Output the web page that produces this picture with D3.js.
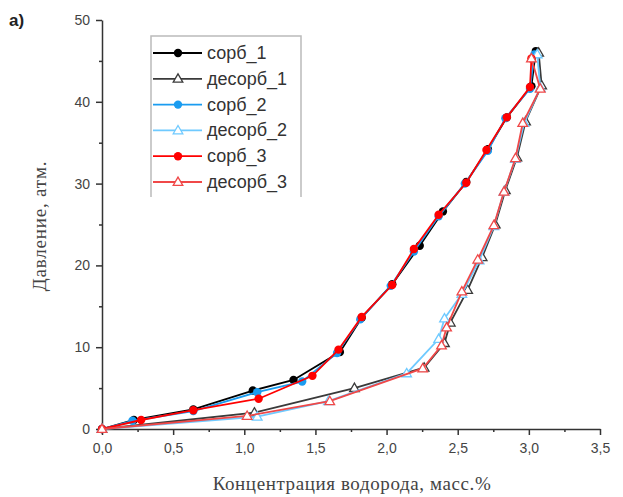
<!DOCTYPE html>
<html>
<head>
<meta charset="utf-8">
<script src="https://cdn.jsdelivr.net/npm/d3@7"></script>
<style>
  html, body { margin: 0; padding: 0; background: #fff; }
  svg { display: block; }
</style>
</head>
<body>
<svg id="chart" width="623" height="497"></svg>
<script>
// Hydrogen sorption / desorption isotherms (3 cycles)
const xTicks = [0, 0.5, 1.0, 1.5, 2.0, 2.5, 3.0, 3.5];
const yTicks = [0, 10, 20, 30, 40, 50];

// [concentration, mass %] , [pressure, atm]
const sorb1 = [[0,0],[0.224,1.1],[0.642,2.4],[1.06,4.7],[1.346,6.0],[1.672,9.4],[1.825,13.6],[2.04,17.7],[2.233,22.4],[2.396,26.6],[2.56,30.2],[2.712,34.2],[2.845,38.1],[3.018,41.9],[3.049,46.2]];
const desorb1 = [[3.069,46.0],[3.09,42.0],[2.977,37.6],[2.916,33.2],[2.835,29.2],[2.764,25.0],[2.672,21.0],[2.57,17.0],[2.448,13.0],[2.407,10.5],[2.264,7.5],[1.774,5.0],[1.071,2.0],[0,0]];
const sorb2 = [[0,0],[0.214,1.0],[0.642,2.2],[1.091,4.5],[1.407,5.8],[1.652,9.3],[1.815,13.4],[2.029,17.5],[2.192,21.7],[2.366,26.0],[2.55,30.0],[2.712,34.0],[2.835,38.0],[3.008,41.6],[3.039,45.8]];
const desorb2 = [[3.059,45.8],[3.08,41.7],[2.967,37.4],[2.906,33.0],[2.825,29.0],[2.754,24.8],[2.651,20.6],[2.529,16.5],[2.407,13.5],[2.366,11.0],[2.141,6.8],[1.591,3.4],[1.091,1.5],[0,0]];
const sorb3 = [[0,0],[0.275,1.1],[0.642,2.3],[1.101,3.7],[1.479,6.5],[1.662,9.7],[1.825,13.7],[2.039,17.6],[2.192,22.0],[2.366,26.2],[2.56,30.1],[2.702,34.1],[2.845,38.1],[3.008,41.8],[3.018,45.3]];
const desorb3 = [[3.018,45.3],[3.08,41.6],[2.957,37.4],[2.906,33.1],[2.825,29.0],[2.754,24.9],[2.641,20.7],[2.529,16.8],[2.422,12.4],[2.386,10.2],[2.254,7.4],[1.601,3.4],[1.02,1.6],[0,0]];

const seriesNames = ["сорб_1", "десорб_1", "сорб_2", "десорб_2", "сорб_3", "десорб_3"];
const seriesData = [sorb1, desorb1, sorb2, desorb2, sorb3, desorb3];
const seriesColors = ["#000000", "#3a3a3a", "#1a9cf0", "#6fcaff", "#ff0000", "#f04848"];
const seriesMarker = ["circle", "triangle", "circle", "triangle", "circle", "triangle"];

const svg = d3.select("#chart");
const plotL = 102, plotR = 600, plotT = 20, plotB = 429;

const x = d3.scaleLinear().domain([0, 3.5]).range([plotL, plotR]);
const y = d3.scaleLinear().domain([0, 50]).range([plotB, plotT]);

const fmt = d => d3.format(".1f")(d).replace(".", ",");

// minor ticks
const gxMinor = svg.append("g").attr("transform", `translate(0,${plotB})`)
  .call(d3.axisBottom(x).tickValues(d3.range(0.25, 3.5, 0.5)).tickSize(3).tickFormat(""));
const gyMinor = svg.append("g").attr("transform", `translate(${plotL},0)`)
  .call(d3.axisLeft(y).tickValues(d3.range(5, 50, 10)).tickSize(3).tickFormat(""));
[gxMinor, gyMinor].forEach(g => { g.select(".domain").remove(); g.selectAll("line").attr("stroke", "#333").attr("stroke-width", 1.5); });

const gx = svg.append("g").attr("transform", `translate(0,${plotB})`)
  .call(d3.axisBottom(x).tickValues(xTicks).tickSize(6).tickSizeOuter(0).tickPadding(8).tickFormat(fmt));
const gy = svg.append("g").attr("transform", `translate(${plotL},0)`)
  .call(d3.axisLeft(y).tickValues(yTicks).tickSize(6).tickSizeOuter(0).tickPadding(6));
[gx, gy].forEach(g => {
  g.select(".domain").attr("stroke", "#333").attr("stroke-width", 1.5);
  g.selectAll(".tick line").attr("stroke", "#333").attr("stroke-width", 1.5);
  g.selectAll("text").attr("font-family", "Liberation Sans, Arial, sans-serif").attr("font-size", 14).attr("fill", "#444");
});

// axis titles
svg.append("text").attr("x", 352).attr("y", 490).attr("text-anchor", "middle")
  .attr("font-family", "Liberation Serif, Times New Roman, serif").attr("font-size", 19)
  .attr("letter-spacing", 0.6).attr("fill", "#444")
  .text("Концентрация водорода, масс.%");
svg.append("text").attr("transform", "translate(46,226) rotate(-90)").attr("text-anchor", "middle")
  .attr("font-family", "Liberation Serif, Times New Roman, serif").attr("font-size", 19)
  .attr("letter-spacing", 0.8).attr("fill", "#444")
  .text("Давление, атм.");
svg.append("text").attr("x", 9).attr("y", 26)
  .attr("font-family", "Liberation Sans, Arial, sans-serif").attr("font-size", 17).attr("font-weight", "bold").attr("fill", "#222")
  .text("а)");

const line = d3.line().x(d => x(d[0])).y(d => y(d[1]));
const tri = d3.symbol().type(d3.symbolTriangle).size(40);

function drawMarker(g, type, color, cx, cy) {
  if (type === "circle") {
    g.append("circle").attr("cx", cx).attr("cy", cy).attr("r", 4.2).attr("fill", color);
  } else {
    g.append("path").attr("d", tri()).attr("transform", `translate(${cx},${cy + 0.6})`)
      .attr("fill", "#fff").attr("stroke", color).attr("stroke-width", 1.3);
  }
}

seriesData.forEach((data, i) => {
  const g = svg.append("g");
  g.append("path").datum(data).attr("d", line).attr("fill", "none")
    .attr("stroke", seriesColors[i]).attr("stroke-width", 1.8);
  data.forEach(d => drawMarker(g, seriesMarker[i], seriesColors[i], x(d[0]), y(d[1])));
});

// legend: white panel framed on the left, top and right
const lg = svg.append("g");
const lgL = 151, lgT = 36, lgR = 301, lgB = 197;
lg.append("rect").attr("x", lgL).attr("y", lgT).attr("width", lgR - lgL).attr("height", lgB - lgT).attr("fill", "#fff");
lg.append("path").attr("d", `M${lgL},${lgB}V${lgT}H${lgR}V${lgB}`)
  .attr("fill", "none").attr("stroke", "#bbb").attr("stroke-width", 1.5);
seriesNames.forEach((name, i) => {
  const cy = 53 + i * 25.8;
  lg.append("line").attr("x1", 153).attr("x2", 202).attr("y1", cy).attr("y2", cy)
    .attr("stroke", seriesColors[i]).attr("stroke-width", 1.8);
  drawMarker(lg, seriesMarker[i], seriesColors[i], 178, cy);
  lg.append("text").attr("x", 207).attr("y", cy + 6)
    .attr("font-family", "Liberation Sans, Arial, sans-serif").attr("font-size", 18).attr("fill", "#333")
    .text(name);
});
</script>
</body>
</html>
